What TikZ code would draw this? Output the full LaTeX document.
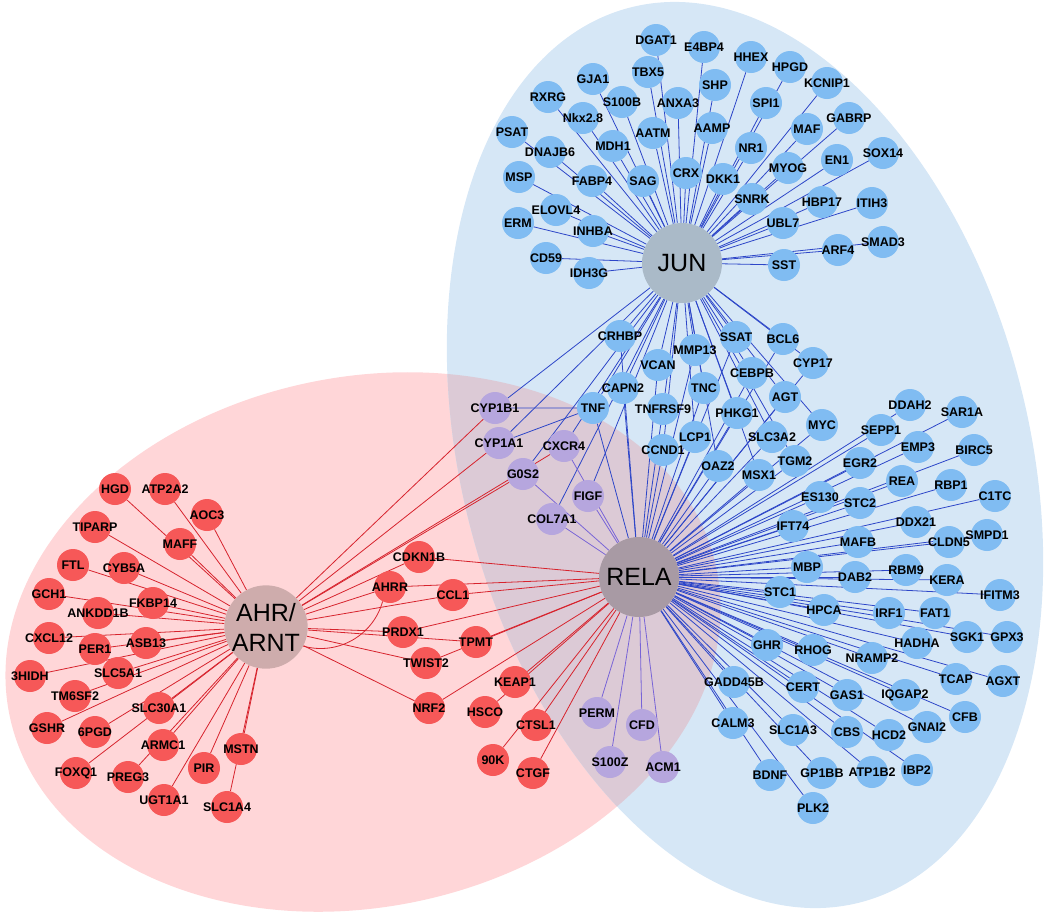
\documentclass[tikz,border=0pt]{standalone}
\usepackage{fontspec}
\setmainfont{Liberation Sans}
\usepackage{tikz}

\definecolor{bluefill}{RGB}{128,188,242}
\definecolor{redfill}{RGB}{246,88,88}
\definecolor{purpfill}{RGB}{182,166,222}
\definecolor{junhub}{RGB}{170,186,200}
\definecolor{relahub}{RGB}{168,154,164}
\definecolor{ahrhub}{RGB}{206,172,172}
\definecolor{bluezone}{RGB}{214,231,246}
\definecolor{pinkzone}{RGB}{255,214,216}
\definecolor{bothzone}{RGB}{220,202,214}
\definecolor{bluelink}{RGB}{45,70,200}
\definecolor{redlink}{RGB}{215,35,45}
\definecolor{purplink}{RGB}{120,100,215}

\pgfdeclarelayer{back}
\pgfdeclarelayer{links}
\pgfsetlayers{back,links,main}

% gene node: style, name, position, label
\newcommand{\gn}[4]{\node[#1] (#2) at (#3) {\makebox[0pt]{#4}};}

\begin{document}
\begin{tikzpicture}[x=1pt,y=-1pt,
  gene/.style={circle,minimum size=32pt,inner sep=0pt,text=black,
    font=\bfseries\fontsize{12.5}{13}\selectfont},
  bg/.style={gene,fill=bluefill},
  rg/.style={gene,fill=redfill},
  pg/.style={gene,fill=purpfill},
  hubnode/.style={circle,minimum size=80pt,inner sep=0pt,align=center,
    font=\fontsize{25}{30}\selectfont},
  junlink/.style={draw=bluelink,line width=0.8pt},
  relalink/.style={draw=bluelink,line width=0.8pt},
  purplink/.style={draw=purplink,line width=0.8pt},
  ahrlink/.style={draw=redlink,line width=0.8pt}]
\useasboundingbox (0,0) rectangle (1050,914);

% the two zones
\begin{pgfonlayer}{back}
\fill[pinkzone,rotate around={11.8:(363,642)}] (363,642) ellipse [x radius=361pt,y radius=265pt];
\fill[bluezone,rotate around={14.4:(745,455)}] (745,455) ellipse [x radius=284pt,y radius=462pt];
\begin{scope}
\clip[rotate around={11.8:(363,642)}] (363,642) ellipse [x radius=361pt,y radius=265pt];
\fill[bothzone,rotate around={14.4:(745,455)}] (745,455) ellipse [x radius=284pt,y radius=462pt];
\end{scope}
\end{pgfonlayer}

% hubs
\node[hubnode,fill=junhub] (JUN) at (682,263) {JUN};
\node[hubnode,fill=relahub] (RELA) at (639,577) {RELA};
\node[hubnode,fill=ahrhub] (AHR) at (266,627) {AHR/\\ARNT};

% JUN targets
\gn{bg}{DGAT1}{656,40}{DGAT1}
\gn{bg}{E4BP4}{704,47}{E4BP4}
\gn{bg}{TBX5}{648,72}{TBX5}
\gn{bg}{SHP}{715,85}{SHP}
\gn{bg}{HHEX}{751,57}{HHEX}
\gn{bg}{HPGD}{790,67}{HPGD}
\gn{bg}{KCNIP1}{827,83}{KCNIP1}
\gn{bg}{GJA1}{593,79}{GJA1}
\gn{bg}{RXRG}{548,97}{RXRG}
\gn{bg}{S100B}{622,102}{S100B}
\gn{bg}{ANXA3}{678,103}{ANXA3}
\gn{bg}{SPI1}{766,103}{SPI1}
\gn{bg}{Nkx28}{583,118}{Nkx2.8}
\gn{bg}{AATM}{653,133}{AATM}
\gn{bg}{AAMP}{712,128}{AAMP}
\gn{bg}{PSAT}{512,132}{PSAT}
\gn{bg}{GABRP}{849,118}{GABRP}
\gn{bg}{MAF}{807,129}{MAF}
\gn{bg}{MDH1}{613,146}{MDH1}
\gn{bg}{DNAJB6}{550,152}{DNAJB6}
\gn{bg}{NR1}{751,148}{NR1}
\gn{bg}{SOX14}{883,153}{SOX14}
\gn{bg}{MYOG}{788,168}{MYOG}
\gn{bg}{EN1}{837,160}{EN1}
\gn{bg}{MSP}{519,177}{MSP}
\gn{bg}{FABP4}{592,181}{FABP4}
\gn{bg}{SAG}{643,181}{SAG}
\gn{bg}{CRX}{686,173}{CRX}
\gn{bg}{DKK1}{723,179}{DKK1}
\gn{bg}{SNRK}{752,199}{SNRK}
\gn{bg}{HBP17}{822,202}{HBP17}
\gn{bg}{ITIH3}{872,203}{ITIH3}
\gn{bg}{ELOVL4}{556,210}{ELOVL4}
\gn{bg}{ERM}{518,223}{ERM}
\gn{bg}{INHBA}{593,231}{INHBA}
\gn{bg}{UBL7}{783,223}{UBL7}
\gn{bg}{CD59}{546,258}{CD59}
\gn{bg}{IDH3G}{589,273}{IDH3G}
\gn{bg}{ARF4}{838,250}{ARF4}
\gn{bg}{SMAD3}{883,242}{SMAD3}
\gn{bg}{SST}{784,265}{SST}

% JUN and RELA
\gn{bg}{CRHBP}{620,336}{CRHBP}
\gn{bg}{SSAT}{736,337}{SSAT}
\gn{bg}{BCL6}{783,339}{BCL6}
\gn{bg}{MMP13}{695,350}{MMP13}
\gn{bg}{VCAN}{658,365}{VCAN}
\gn{bg}{CYP17}{813,363}{CYP17}
\gn{bg}{CEBPB}{752,373}{CEBPB}
\gn{bg}{CAPN2}{623,388}{CAPN2}
\gn{bg}{TNC}{704,388}{TNC}
\gn{bg}{AGT}{785,397}{AGT}
\gn{bg}{TNF}{593,408}{TNF}
\gn{bg}{TNFRSF9}{663,409}{TNFRSF9}
\gn{bg}{PHKG1}{737,413}{PHKG1}
\gn{bg}{MYC}{822,425}{MYC}
\gn{bg}{LCP1}{695,437}{LCP1}
\gn{bg}{SLC3A2}{772,437}{SLC3A2}
\gn{bg}{CCND1}{663,450}{CCND1}
\gn{bg}{TGM2}{795,461}{TGM2}
\gn{bg}{OAZ2}{718,466}{OAZ2}
\gn{bg}{MSX1}{759,475}{MSX1}

% RELA targets
\gn{bg}{DDAH2}{910,405}{DDAH2}
\gn{bg}{SAR1A}{962,412}{SAR1A}
\gn{bg}{SEPP1}{881,430}{SEPP1}
\gn{bg}{EMP3}{918,447}{EMP3}
\gn{bg}{BIRC5}{974,450}{BIRC5}
\gn{bg}{EGR2}{860,463}{EGR2}
\gn{bg}{REA}{902,481}{REA}
\gn{bg}{RBP1}{951,485}{RBP1}
\gn{bg}{C1TC}{995,496}{C1TC}
\gn{bg}{ES130}{820,497}{ES130}
\gn{bg}{STC2}{860,503}{STC2}
\gn{bg}{IFT74}{793,526}{IFT74}
\gn{bg}{DDX21}{916,522}{DDX21}
\gn{bg}{MAFB}{858,542}{MAFB}
\gn{bg}{CLDN5}{949,542}{CLDN5}
\gn{bg}{SMPD1}{987,535}{SMPD1}
\gn{bg}{MBP}{807,567}{MBP}
\gn{bg}{DAB2}{855,577}{DAB2}
\gn{bg}{RBM9}{906,570}{RBM9}
\gn{bg}{KERA}{947,580}{KERA}
\gn{bg}{IFITM3}{1000,595}{IFITM3}
\gn{bg}{STC1}{780,592}{STC1}
\gn{bg}{HPCA}{824,610}{HPCA}
\gn{bg}{IRF1}{889,613}{IRF1}
\gn{bg}{FAT1}{935,613}{FAT1}
\gn{bg}{SGK1}{967,637}{SGK1}
\gn{bg}{GPX3}{1007,637}{GPX3}
\gn{bg}{GHR}{767,645}{GHR}
\gn{bg}{RHOG}{813,650}{RHOG}
\gn{bg}{HADHA}{917,643}{HADHA}
\gn{bg}{NRAMP2}{872,658}{NRAMP2}
\gn{bg}{TCAP}{956,679}{TCAP}
\gn{bg}{AGXT}{1003,681}{AGXT}
\gn{bg}{GADD45B}{734,682}{GADD45B}
\gn{bg}{CERT}{803,687}{CERT}
\gn{bg}{GAS1}{847,695}{GAS1}
\gn{bg}{IQGAP2}{905,695}{IQGAP2}
\gn{bg}{CFB}{965,717}{CFB}
\gn{bg}{CALM3}{733,723}{CALM3}
\gn{bg}{SLC1A3}{793,730}{SLC1A3}
\gn{bg}{CBS}{847,732}{CBS}
\gn{bg}{HCD2}{889,735}{HCD2}
\gn{bg}{GNAI2}{927,727}{GNAI2}
\gn{bg}{BDNF}{770,775}{BDNF}
\gn{bg}{GP1BB}{822,773}{GP1BB}
\gn{bg}{ATP1B2}{872,772}{ATP1B2}
\gn{bg}{IBP2}{917,770}{IBP2}
\gn{bg}{PLK2}{813,808}{PLK2}

% shared (overlap)
\gn{pg}{CYP1B1}{495,408}{CYP1B1}
\gn{pg}{CYP1A1}{499,443}{CYP1A1}
\gn{pg}{CXCR4}{564,446}{CXCR4}
\gn{pg}{G0S2}{523,474}{G0S2}
\gn{pg}{FIGF}{588,496}{FIGF}
\gn{pg}{COL7A1}{552,519}{COL7A1}
\gn{pg}{PERM}{597,713}{PERM}
\gn{pg}{CFD}{642,725}{CFD}
\gn{pg}{S100Z}{610,762}{S100Z}
\gn{pg}{ACM1}{663,767}{ACM1}

% AHR and RELA
\gn{rg}{CDKN1B}{419,557}{CDKN1B}
\gn{rg}{AHRR}{390,587}{AHRR}
\gn{rg}{CCL1}{453,595}{CCL1}
\gn{rg}{PRDX1}{403,632}{PRDX1}
\gn{rg}{TPMT}{476,642}{TPMT}
\gn{rg}{TWIST2}{426,663}{TWIST2}
\gn{rg}{KEAP1}{515,682}{KEAP1}
\gn{rg}{NRF2}{429,708}{NRF2}
\gn{rg}{HSCO}{485,712}{HSCO}
\gn{rg}{CTSL1}{536,725}{CTSL1}
\gn{rg}{90K}{493,760}{90K}
\gn{rg}{CTGF}{533,773}{CTGF}

% AHR targets
\gn{rg}{HGD}{115,489}{HGD}
\gn{rg}{ATP2A2}{165,489}{ATP2A2}
\gn{rg}{AOC3}{207,515}{AOC3}
\gn{rg}{TIPARP}{95,527}{TIPARP}
\gn{rg}{MAFF}{180,544}{MAFF}
\gn{rg}{FTL}{73,565}{FTL}
\gn{rg}{CYB5A}{124,568}{CYB5A}
\gn{rg}{GCH1}{49,594}{GCH1}
\gn{rg}{FKBP14}{153,603}{FKBP14}
\gn{rg}{ANKDD1B}{98,613}{ANKDD1B}
\gn{rg}{CXCL12}{49,638}{CXCL12}
\gn{rg}{PER1}{95,649}{PER1}
\gn{rg}{ASB13}{146,643}{ASB13}
\gn{rg}{3HIDH}{30,676}{3HIDH}
\gn{rg}{SLC5A1}{118,673}{SLC5A1}
\gn{rg}{TM6SF2}{75,696}{TM6SF2}
\gn{rg}{SLC30A1}{159,708}{SLC30A1}
\gn{rg}{GSHR}{47,728}{GSHR}
\gn{rg}{6PGD}{95,732}{6PGD}
\gn{rg}{ARMC1}{163,745}{ARMC1}
\gn{rg}{MSTN}{241,749}{MSTN}
\gn{rg}{FOXQ1}{76,773}{FOXQ1}
\gn{rg}{PREG3}{128,777}{PREG3}
\gn{rg}{PIR}{204,768}{PIR}
\gn{rg}{UGT1A1}{164,800}{UGT1A1}
\gn{rg}{SLC1A4}{227,807}{SLC1A4}

\begin{pgfonlayer}{links}
\foreach \g in {DGAT1,E4BP4,TBX5,SHP,HHEX,HPGD,KCNIP1,GJA1,RXRG,S100B,ANXA3,SPI1,Nkx28,AATM,AAMP,PSAT,GABRP,MAF,MDH1,DNAJB6,NR1,SOX14,MYOG,EN1,MSP,FABP4,SAG,CRX,DKK1,SNRK,HBP17,ITIH3,ELOVL4,ERM,INHBA,UBL7,CD59,IDH3G,ARF4,SMAD3,SST,CYP1B1,CYP1A1,CXCR4,G0S2,FIGF,COL7A1}
  \draw[junlink] (JUN) -- (\g);
\foreach \g in {CRHBP,SSAT,BCL6,MMP13,VCAN,CYP17,CEBPB,CAPN2,TNC,AGT,TNF,TNFRSF9,PHKG1,MYC,LCP1,SLC3A2,CCND1,TGM2,OAZ2,MSX1}{
  \draw[junlink] (JUN) -- (\g);
  \draw[relalink] (RELA) -- (\g);
}
\foreach \g in {DDAH2,SAR1A,SEPP1,EMP3,BIRC5,EGR2,REA,RBP1,C1TC,ES130,STC2,IFT74,DDX21,MAFB,CLDN5,SMPD1,MBP,DAB2,RBM9,KERA,IFITM3,STC1,HPCA,IRF1,FAT1,SGK1,GPX3,GHR,RHOG,HADHA,NRAMP2,TCAP,AGXT,GADD45B,CERT,GAS1,IQGAP2,CFB,CALM3,SLC1A3,CBS,HCD2,GNAI2,BDNF,GP1BB,ATP1B2,IBP2,PLK2}
  \draw[relalink] (RELA) -- (\g);
\foreach \g in {CXCR4,G0S2,FIGF,COL7A1,PERM,CFD,S100Z,ACM1}
  \draw[purplink] (RELA) -- (\g);
\draw[junlink] (CYP1B1) -- (TNF) (CYP1A1) -- (TNF);
\foreach \g in {CYP1B1,CYP1A1,CXCR4,G0S2,CDKN1B,AHRR,CCL1,PRDX1,TPMT,TWIST2,NRF2,HGD,ATP2A2,AOC3,TIPARP,MAFF,FTL,CYB5A,GCH1,FKBP14,ANKDD1B,CXCL12,PER1,ASB13,3HIDH,SLC5A1,TM6SF2,SLC30A1,GSHR,6PGD,ARMC1,MSTN,FOXQ1,PREG3,PIR,UGT1A1,SLC1A4}
  \draw[ahrlink] (AHR) -- (\g);
\foreach \g in {CDKN1B,AHRR,CCL1,PRDX1,TPMT,TWIST2,NRF2,KEAP1,HSCO,CTSL1,90K,CTGF}
  \draw[ahrlink] (RELA) -- (\g);
\draw[ahrlink] (AHR) to[bend right=45] (AHRR);
\end{pgfonlayer}
\end{tikzpicture}
\end{document}
